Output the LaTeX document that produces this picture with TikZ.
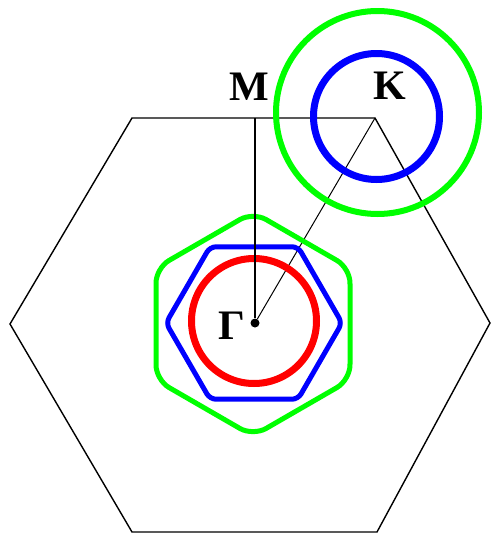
\documentclass[tikz,border=0pt]{standalone}
\usepackage{xcolor}
\usepackage{fontspec}
\setmainfont{Liberation Serif}
\usepackage{tikz}
\usetikzlibrary{calc}
\definecolor{fsred}{RGB}{255,0,0}
\definecolor{fsgreen}{RGB}{0,255,0}
\definecolor{fsblue}{RGB}{0,0,255}
\tikzstyle{zone} = [black, line width=1.4pt]
\tikzstyle{path} = [black, line width=1pt]
\tikzstyle{sym} = [font=\bfseries\fontsize{42}{42}\selectfont, inner sep=0pt]
\tikzstyle{dot} = [circle, fill=black, inner sep=0pt, minimum size=9pt]
\tikzstyle{redfs} = [fsred, line width=7pt]
\tikzstyle{bluefs} = [fsblue, line width=5pt]
\tikzstyle{greenfs} = [fsgreen, line width=5pt]

\begin{document}
\begin{tikzpicture}[x=1pt, y=-1pt]
	\useasboundingbox (0,0) rectangle (491,533);
	% Ecken der Brillouin-Zone
	\coordinate (A) at (132,118);
	\coordinate (K) at (375,118);
	\coordinate (B) at (490,323);
	\coordinate (C) at (377,532);
	\coordinate (D) at (132,532);
	\coordinate (E) at (10,324);
	\coordinate (M) at (255,118);
	\node[dot] (G) at (255,323) {}; % Gamma-Punkt
	\draw[zone] (A) -- (K) -- (B) -- (C) -- (D) -- (E) -- cycle; % Sechseck
	\draw[path] (G) -- (K); % Gamma-K
	% Fermiflaechen um K
	\draw[greenfs, line width=6pt] (377.5,112.5) circle[radius=101.5];
	\draw[bluefs, line width=7pt] (376.5,116.5) circle[radius=63];
	% Fermiflaechen um Gamma
	\draw[greenfs, shift={(253,324)}, rounded corners=15] (0:97) -- (30:112) -- (90:112) -- (150:112) -- (210:112) -- (270:112) -- (330:112) -- cycle;
	\draw[bluefs, shift={(254,323)}, rounded corners=6] (90:76.2) -- (60:88) -- (0:88) -- (300:88) -- (240:88) -- (180:88) -- (120:88) -- cycle;
	\draw[redfs] (254,321) circle[radius=62.5];
	\draw[zone] (M) -- (G); % Gamma-M
	% Beschriftung
	\node[sym] (Mlab) at (249,87) {M};
	\node[sym] (Klab) at (390,86) {K};
	\node[sym] (Glab) at (232,326) {Γ};
\end{tikzpicture}
\end{document}
